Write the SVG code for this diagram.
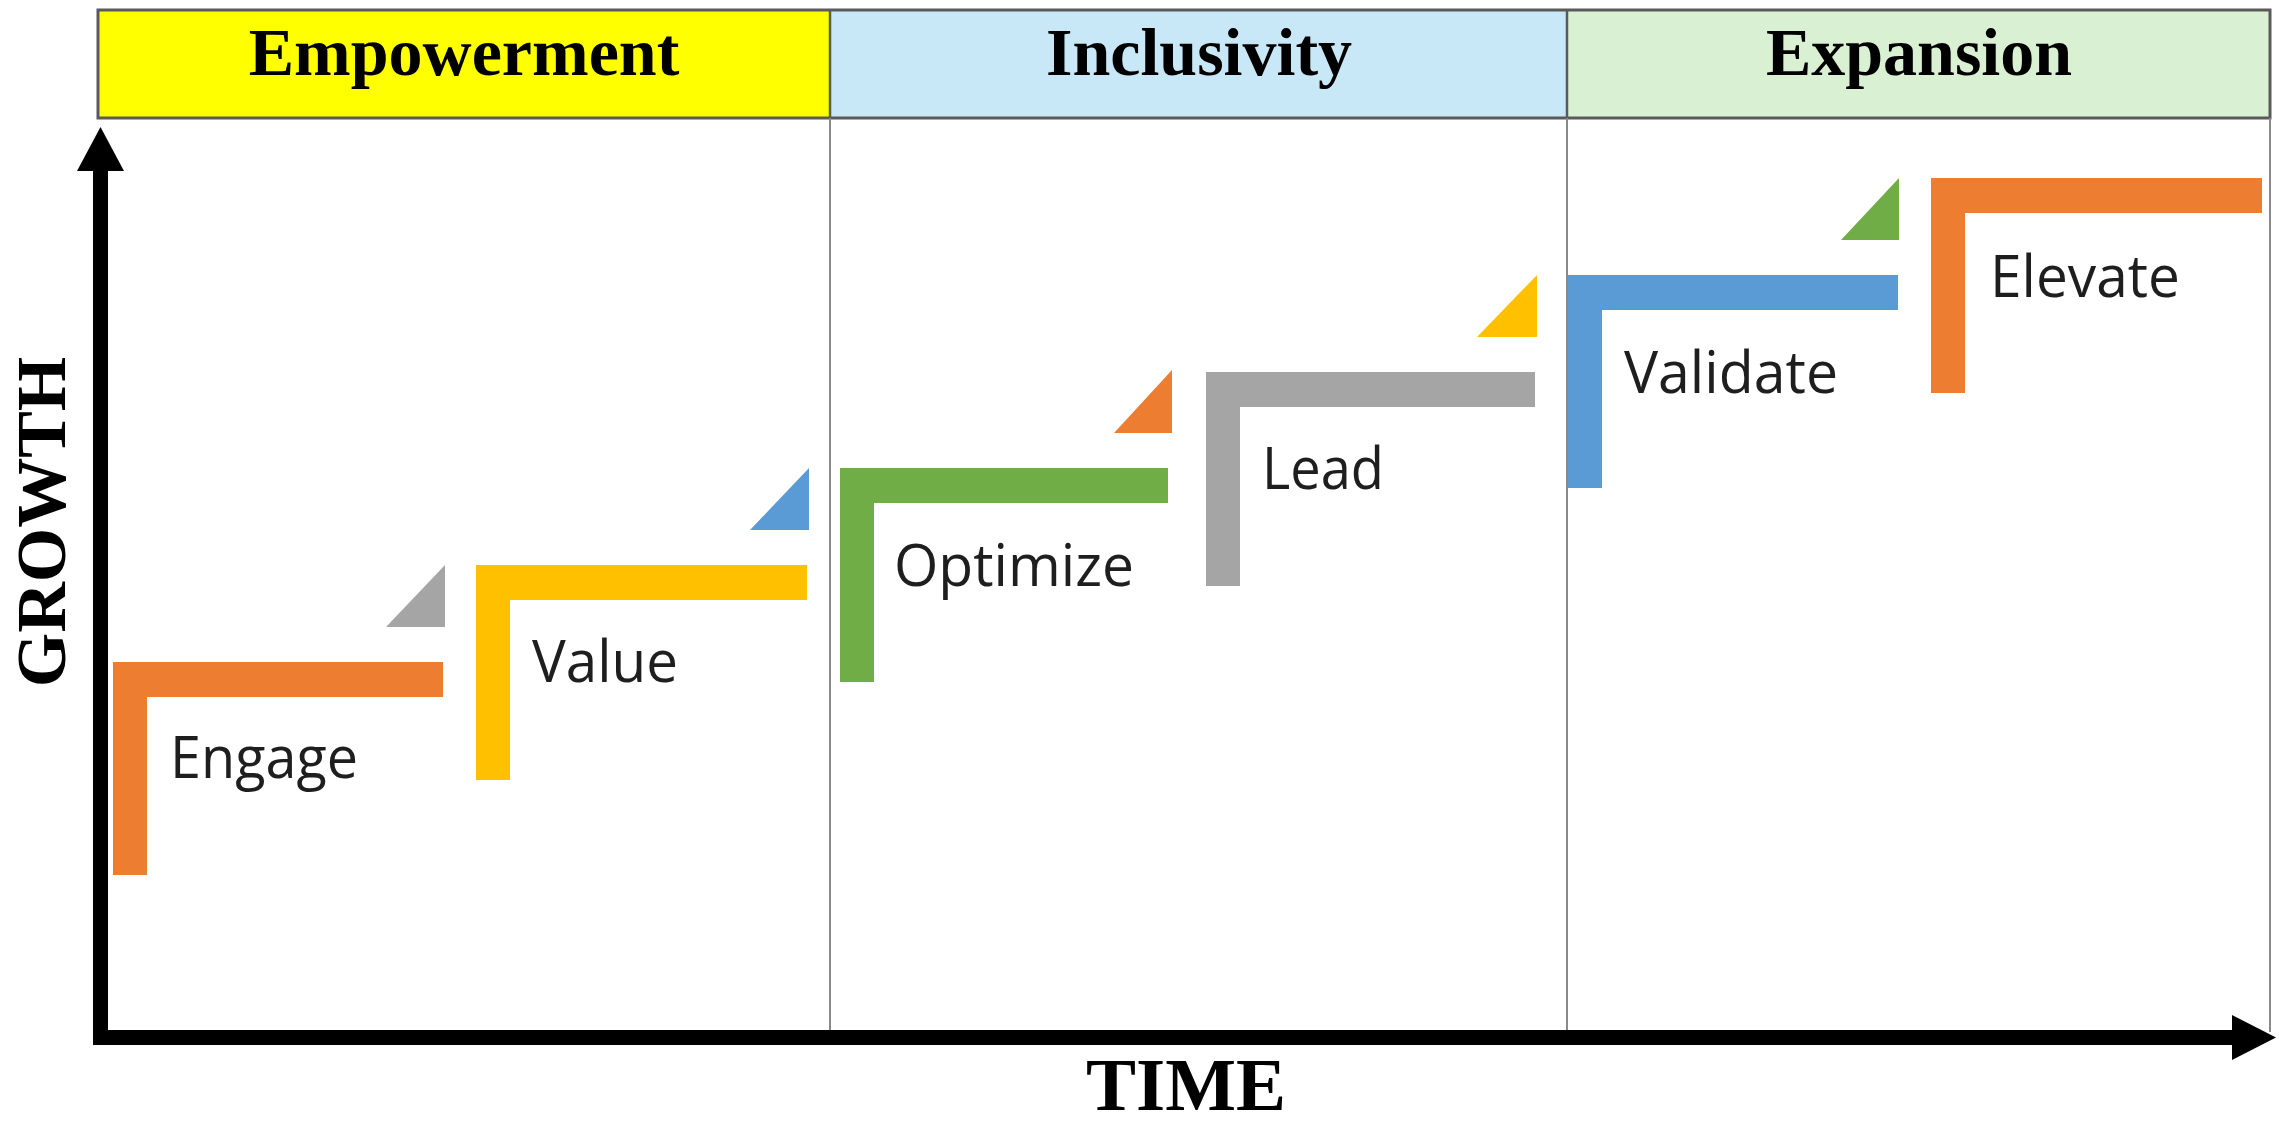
<svg xmlns="http://www.w3.org/2000/svg" width="2279" height="1124" viewBox="0 0 2279 1124">
  <style>
    .hdr { font-family: "Liberation Serif", "Times New Roman", serif; font-weight: bold; font-size: 68px; fill: #000; text-anchor: middle; }
    .axis-label { font-family: "Liberation Serif", "Times New Roman", serif; font-weight: bold; fill: #000; text-anchor: middle; }
    .lbl { font-family: "Open Sans", "Liberation Sans", sans-serif; font-size: 58px; fill: #1e1e1e; }
    .grid { stroke: #8a8a8a; stroke-width: 2; fill: none; }
    .axis { stroke: #000; stroke-width: 15; fill: none; }
    .orange { fill: #ED7D31; }
    .gray { fill: #A5A5A5; }
    .yellow { fill: #FFC000; }
    .blue { fill: #5B9BD5; }
    .green { fill: #70AD47; }
  </style>
  <rect x="0" y="0" width="2279" height="1124" fill="#ffffff"/>

  <g id="header">
    <rect x="98" y="10" width="732" height="108" fill="#FFFF00"/>
    <rect x="830" y="10" width="737" height="108" fill="#C8E8F8"/>
    <rect x="1567" y="10" width="703" height="108" fill="#DAF0D2"/>
    <rect x="98" y="10" width="2172" height="108" fill="none" stroke="#5a5a5a" stroke-width="3"/>
    <line x1="830" y1="10" x2="830" y2="118" stroke="#5a5a5a" stroke-width="2.5"/>
    <line x1="1567" y1="10" x2="1567" y2="118" stroke="#5a5a5a" stroke-width="2.5"/>
    <text class="hdr" x="464" y="75">Empowerment</text>
    <text class="hdr" x="1199" y="75">Inclusivity</text>
    <text class="hdr" x="1919" y="75">Expansion</text>
  </g>

  <g id="grid">
    <line class="grid" x1="830" y1="118" x2="830" y2="1032"/>
    <line class="grid" x1="1567" y1="118" x2="1567" y2="1032"/>
    <line class="grid" x1="2270" y1="118" x2="2270" y2="1032"/>
  </g>

  <g id="connectors">
    <line class="axis" x1="100.5" y1="1045" x2="100.5" y2="165"/>
    <polygon points="77,171 100.5,127 124,171" fill="#000"/>
    <line class="axis" x1="93" y1="1037.5" x2="2236" y2="1037.5"/>
    <polygon points="2232,1015 2276,1037.5 2232,1060" fill="#000"/>
  </g>

  <text class="axis-label" font-size="70" transform="translate(65,522) rotate(-90)">GROWTH</text>
  <text class="axis-label" font-size="75" x="1186" y="1110">TIME</text>

  <g id="engage">
    <path class="orange" d="M113,662 H443 V697 H147 V875 H113 Z"/>
    <polygon class="gray" points="445,565 445,627 386,627"/>
    <text class="lbl" x="170" y="778" textLength="188" lengthAdjust="spacingAndGlyphs">Engage</text>
  </g>

  <g id="value">
    <path class="yellow" d="M476,565 H807 V600 H510 V780 H476 Z"/>
    <polygon class="blue" points="809,468 809,530 750,530"/>
    <text class="lbl" x="532" y="682" textLength="146" lengthAdjust="spacingAndGlyphs">Value</text>
  </g>

  <g id="optimize">
    <path class="green" d="M840,468 H1168 V503 H874 V682 H840 Z"/>
    <polygon class="orange" points="1172,370 1172,433 1114,433"/>
    <text class="lbl" x="894" y="586" textLength="240" lengthAdjust="spacingAndGlyphs">Optimize</text>
  </g>

  <g id="lead">
    <path class="gray" d="M1206,372 H1535 V407 H1240 V586 H1206 Z"/>
    <polygon class="yellow" points="1537,275 1537,337 1477,337"/>
    <text class="lbl" x="1262" y="489" textLength="122" lengthAdjust="spacingAndGlyphs">Lead</text>
  </g>

  <g id="validate">
    <path class="blue" d="M1568,275 H1898 V310 H1602 V488 H1568 Z"/>
    <polygon class="green" points="1899,178 1899,240 1841,240"/>
    <text class="lbl" x="1624" y="393" textLength="214" lengthAdjust="spacingAndGlyphs">Validate</text>
  </g>

  <g id="elevate">
    <path class="orange" d="M1931,178 H2262 V213 H1965 V393 H1931 Z"/>
    <text class="lbl" x="1990" y="297" textLength="190" lengthAdjust="spacingAndGlyphs">Elevate</text>
  </g>
</svg>
